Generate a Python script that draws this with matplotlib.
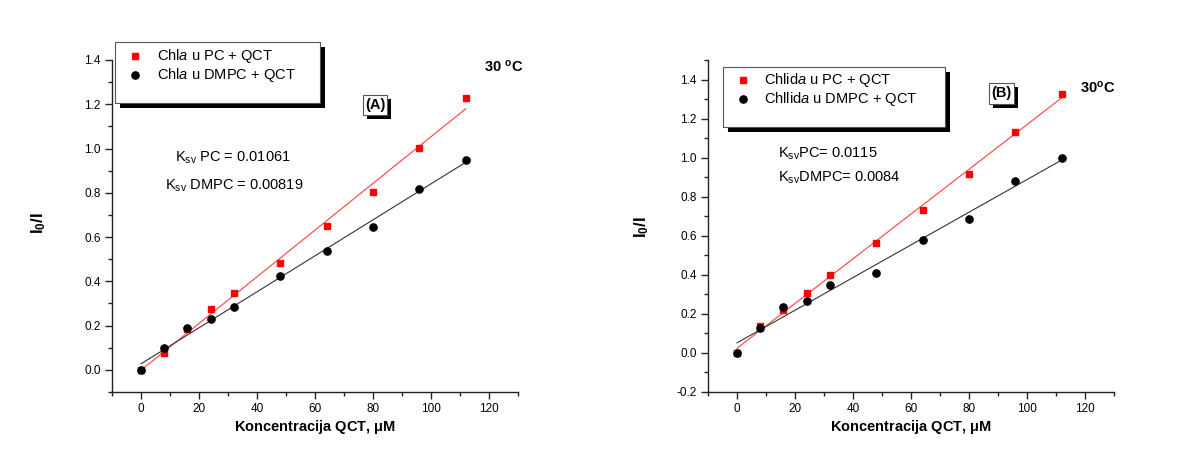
import matplotlib
matplotlib.use("Agg")
import matplotlib.pyplot as plt
import matplotlib.patches as mpatches
from matplotlib.lines import Line2D
from matplotlib.ticker import MultipleLocator
import numpy as np

plt.rcParams["font.family"] = ["Liberation Sans", "DejaVu Sans"]
plt.rcParams["mathtext.fontset"] = "custom"
plt.rcParams["mathtext.rm"] = "Liberation Sans"
plt.rcParams["mathtext.it"] = "Liberation Sans:italic"
plt.rcParams["mathtext.bf"] = "Liberation Sans:bold"

# ==========================================
# DATA
# ==========================================
conc = [0, 8, 16, 24, 32, 48, 64, 80, 96, 112]

a_pc = [0.0, 0.075, 0.185, 0.275, 0.346, 0.484, 0.649, 0.804, 1.004, 1.227]
a_dmpc = [0.0, 0.098, 0.188, 0.230, 0.286, 0.424, 0.537, 0.646, 0.819, 0.949]

b_pc = [0.0, 0.138, 0.219, 0.309, 0.400, 0.563, 0.733, 0.918, 1.130, 1.327]
b_dmpc = [0.0, 0.130, 0.237, 0.267, 0.349, 0.407, 0.579, 0.684, 0.878, 0.998]

labels_a = [r"Chl$\mathit{a}$ u PC + QCT", r"Chl$\mathit{a}$ u DMPC + QCT"]
labels_b = [r"Chlid$\mathit{a}$ u PC + QCT", r"Chllid$\mathit{a}$ u DMPC + QCT"]
ksv_a = [r"K$_{\rm sv}$ PC = 0.01061", r"K$_{\rm sv}$ DMPC = 0.00819"]
ksv_b = [r"K$_{\rm sv}$PC= 0.0115", r"K$_{\rm sv}$DMPC= 0.0084"]

W, H = 1182, 457
fig = plt.figure(figsize=(W / 100, H / 100), dpi=100)
fig.patch.set_facecolor("white")


def fx(px):
  return px / W


def fy(py):
  return 1 - py / H


def boxed(fig, x0, y0, x1, y1, off):
  """Draws an Origin-style white box with a black drop shadow (pixel coords)."""
  sh = mpatches.Rectangle((fx(x0 + off), fy(y1 + off)), fx(x1 - x0), (y1 - y0) / H,
                          transform=fig.transFigure, facecolor="black",
                          edgecolor="black", lw=0, zorder=5)
  bx = mpatches.Rectangle((fx(x0), fy(y1)), fx(x1 - x0), (y1 - y0) / H,
                          transform=fig.transFigure, facecolor="white",
                          edgecolor="#555555", lw=0.8, zorder=6)
  fig.add_artist(sh)
  fig.add_artist(bx)


def legend_box(fig, box, mx, tx, rows, labels):
  x0, y0, x1, y1 = box
  boxed(fig, x0, y0, x1, y1, 5)
  styles = [dict(marker="s", color="red", ms=4.5), dict(marker="o", color="black", ms=5.2)]
  for ry, lab, st in zip(rows, labels, styles):
    fig.add_artist(Line2D([fx(mx)], [fy(ry)], transform=fig.transFigure, ls="none",
                          mec=st["color"], mfc=st["color"], marker=st["marker"],
                          ms=st["ms"], zorder=7))
    fig.text(fx(tx), fy(ry), lab, fontsize=10.5, va="center", ha="left", zorder=7)


def panel(ax, pc, dmpc, ylim, ymaj, ymin):
  x = np.array(conc, dtype=float)
  for y, col, lcol, mk, ms in [(pc, "red", "#ff4040", "s", 4.5),
                               (dmpc, "black", "#333333", "o", 5.2)]:
    k, b = np.polyfit(x, np.array(y), 1)
    ax.plot([x[0], x[-1]], [b + k * x[0], b + k * x[-1]], color=lcol, lw=0.8, zorder=2)
  ax.plot(conc, pc, ls="none", marker="s", color="red", ms=4.5, zorder=3)
  ax.plot(conc, dmpc, ls="none", marker="o", color="black", ms=5.2, zorder=4)

  ax.set_xlim(-10, 130)
  ax.set_ylim(*ylim)
  ax.xaxis.set_major_locator(MultipleLocator(20))
  ax.xaxis.set_minor_locator(MultipleLocator(10))
  ax.yaxis.set_major_locator(MultipleLocator(ymaj))
  ax.yaxis.set_minor_locator(MultipleLocator(ymin))
  ax.xaxis.set_major_formatter(matplotlib.ticker.FuncFormatter(lambda v, p: f"{v:.0f}"))
  ax.yaxis.set_major_formatter(matplotlib.ticker.FuncFormatter(lambda v, p: f"{v:.1f}"))
  for s in ["top", "right"]:
    ax.spines[s].set_visible(False)
  for s in ["left", "bottom"]:
    ax.spines[s].set_linewidth(1.0)
    ax.spines[s].set_color("#222222")
  ax.tick_params(which="major", direction="out", length=5, width=1.0,
                 labelsize=8.5, pad=3, color="#222222")
  ax.tick_params(which="minor", direction="out", length=3, width=1.0, color="#222222")
  ax.set_facecolor("none")
  ax.set_xlabel(r"Koncentracija QCT, $\mathbf{\mu}$M", fontsize=10.5,
                fontweight="bold", labelpad=2)


# ---------------- Panel A ----------------
axA = fig.add_axes([fx(112), fy(392), fx(518 - 112), (392 - 60) / H])
panel(axA, a_pc, a_dmpc, (-0.1, 1.4), 0.2, 0.1)
axA.text(125.0, 1.368, "30 $^{\\mathbf{o}}$C", fontsize=10.5, fontweight="bold",
         ha="center", va="center")
axA.text(11.7, 0.957, ksv_a[0], fontsize=10.5, ha="left", va="center")
axA.text(8.2, 0.831, ksv_a[1], fontsize=10.5, ha="left", va="center")
fig.text(fx(39), fy(223), r"$\mathbf{I_0/I}$", rotation=90, fontsize=12,
         ha="center", va="center")
boxed(fig, 363, 95, 387, 115, 4)
fig.text(fx(375), fy(105), "(A)", fontsize=10.5, fontweight="bold",
         ha="center", va="center", zorder=8)
legend_box(fig, (115, 42, 320, 103), 135, 157, (56, 75), labels_a)

# ---------------- Panel B ----------------
axB = fig.add_axes([fx(708), fy(392), fx(1114 - 708), (392 - 60) / H])
panel(axB, b_pc, b_dmpc, (-0.2, 1.5), 0.2, 0.1)
axB.text(124.5, 1.359, "30$^{\\mathbf{o}}$C", fontsize=10.5, fontweight="bold",
         ha="center", va="center")
axB.text(14.1, 1.02, ksv_b[0], fontsize=10.5, ha="left", va="center")
axB.text(14.1, 0.897, ksv_b[1], fontsize=10.5, ha="left", va="center")
fig.text(fx(642), fy(227), r"$\mathbf{I_0/I}$", rotation=90, fontsize=12,
         ha="center", va="center")
boxed(fig, 989, 83, 1014, 104, 4)
fig.text(fx(1001.5), fy(93.5), "(B)", fontsize=10.5, fontweight="bold",
         ha="center", va="center", zorder=8)
legend_box(fig, (723, 67, 945, 127), 743, 764, (80, 99), labels_b)

fig.savefig("out.png", dpi=100)
